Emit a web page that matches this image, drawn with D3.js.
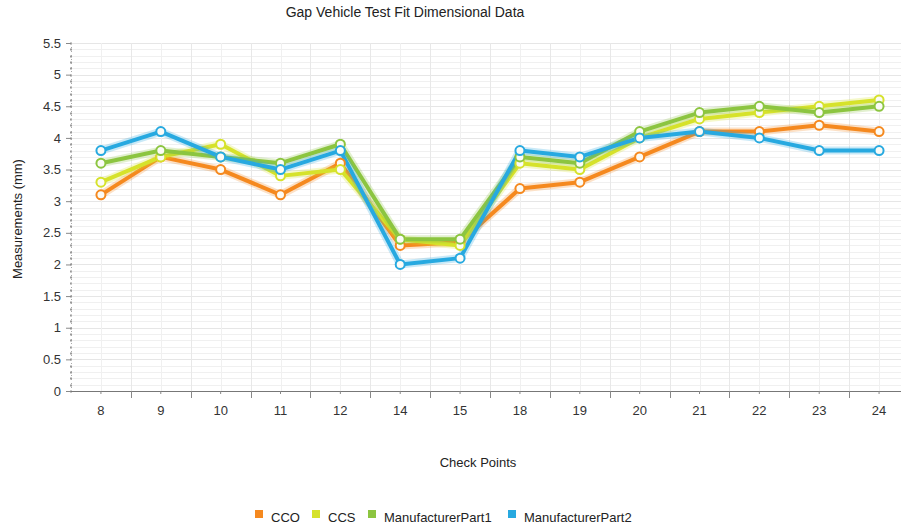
<!DOCTYPE html>
<html>
<head>
<meta charset="utf-8">
<script src="https://cdn.jsdelivr.net/npm/d3@7"></script>
<style>
  body { margin: 0; background: #fff; }
  svg { font-family: "Liberation Sans", Arial, sans-serif; }
</style>
</head>
<body>
<div id="chart"></div>
<script>
// check points on the x axis
const checkPoints = ["8", "9", "10", "11", "12", "14", "15", "18", "19", "20", "21", "22", "23", "24"];

// measurements per series (mm)
const cco = [3.1, 3.7, 3.5, 3.1, 3.6, 2.3, 2.35, 3.2, 3.3, 3.7, 4.1, 4.1, 4.2, 4.1];
const ccs = [3.3, 3.7, 3.9, 3.4, 3.5, 2.4, 2.3, 3.6, 3.5, 4.0, 4.3, 4.4, 4.5, 4.6];
const part1 = [3.6, 3.8, 3.7, 3.6, 3.9, 2.4, 2.4, 3.7, 3.6, 4.1, 4.4, 4.5, 4.4, 4.5];
const part2 = [3.8, 4.1, 3.7, 3.5, 3.8, 2.0, 2.1, 3.8, 3.7, 4.0, 4.1, 4.0, 3.8, 3.8];

const seriesNames = ["CCO", "CCS", "ManufacturerPart1", "ManufacturerPart2"];
const seriesColors = ["#f5891f", "#d6e22b", "#8cc540", "#27a9e0"];
const yTicks = [0, 0.5, 1, 1.5, 2, 2.5, 3, 3.5, 4, 4.5, 5, 5.5];

const series = [cco, ccs, part1, part2].map((vals, i) => ({
    name: seriesNames[i],
    color: seriesColors[i],
    values: vals.map((v, j) => ({ cat: checkPoints[j], v: v }))
}));

const width = 901, height = 531;
const plotLeft = 71, plotRight = 909, plotTop = 43, plotBottom = 391;

const svg = d3.select("#chart").append("svg")
    .attr("width", width)
    .attr("height", height);

const x = d3.scaleBand().domain(checkPoints).range([plotLeft, plotRight]);
const y = d3.scaleLinear().domain([0, 5.5]).range([plotBottom, plotTop]);
const cx = d => x(d) + x.bandwidth() / 2;

// minor grid every 0.1
const minor = d3.range(0, 56).map(d => d / 10);
svg.append("g")
    .selectAll("line")
    .data(minor)
    .enter().append("line")
    .attr("x1", plotLeft).attr("x2", width)
    .attr("y1", d => Math.round(y(d)) + 0.5)
    .attr("y2", d => Math.round(y(d)) + 0.5)
    .attr("stroke", "#f0f0f0");

// major grid
svg.append("g")
    .selectAll("line")
    .data(yTicks)
    .enter().append("line")
    .attr("x1", plotLeft).attr("x2", width)
    .attr("y1", d => Math.round(y(d)) + 0.5)
    .attr("y2", d => Math.round(y(d)) + 0.5)
    .attr("stroke", "#e6e6e6");

// vertical grid at band edges and centres
svg.append("g")
    .selectAll("line")
    .data(checkPoints)
    .enter().append("line")
    .attr("x1", d => Math.round(cx(d)) + 0.5)
    .attr("x2", d => Math.round(cx(d)) + 0.5)
    .attr("y1", plotTop).attr("y2", plotBottom)
    .attr("stroke", "#f0f0f0");
svg.append("g")
    .selectAll("line")
    .data(checkPoints.slice(1))
    .enter().append("line")
    .attr("x1", d => Math.round(x(d)) + 0.5)
    .attr("x2", d => Math.round(x(d)) + 0.5)
    .attr("y1", plotTop).attr("y2", plotBottom)
    .attr("stroke", "#e8e8e8");

// y axis: dotted line with minor dots
svg.append("g")
    .selectAll("rect")
    .data(minor)
    .enter().append("rect")
    .attr("x", plotLeft - 1).attr("y", d => Math.round(y(d)) - 0.5)
    .attr("width", 2).attr("height", 2)
    .attr("fill", "#999");
svg.append("line")
    .attr("x1", plotLeft + 0.5).attr("x2", plotLeft + 0.5)
    .attr("y1", plotTop).attr("y2", plotBottom)
    .attr("stroke", "#aaa")
    .attr("stroke-dasharray", "1,3");

const yAxis = svg.append("g")
    .attr("transform", "translate(" + plotLeft + ",0)")
    .call(d3.axisLeft(y).tickValues(yTicks).tickSize(5).tickPadding(5).tickFormat(d => d));
yAxis.select(".domain").remove();
yAxis.selectAll(".tick line").attr("stroke", "#888");
yAxis.selectAll("text").attr("fill", "#333").style("font-size", "13px");

// x axis
const xAxis = svg.append("g")
    .attr("transform", "translate(0," + plotBottom + ")")
    .call(d3.axisBottom(x).tickSize(3).tickPadding(12));
xAxis.select(".domain").attr("stroke", "#777").attr("d", "M" + plotLeft + ",0.5H" + width);
xAxis.selectAll(".tick line").attr("stroke", "#888");
xAxis.selectAll("text").attr("fill", "#333").style("font-size", "13px");
svg.append("g")
    .selectAll("line")
    .data(checkPoints.slice(1))
    .enter().append("line")
    .attr("x1", d => Math.round(x(d)) + 0.5)
    .attr("x2", d => Math.round(x(d)) + 0.5)
    .attr("y1", plotBottom).attr("y2", plotBottom + 7)
    .attr("stroke", "#888");

// lines
const line = d3.line()
    .x(d => cx(d.cat))
    .y(d => y(d.v));

const lines = svg.append("g");
series.forEach(s => {
    lines.append("path")
        .datum(s.values)
        .attr("d", line)
        .attr("fill", "none")
        .attr("stroke", s.color)
        .attr("stroke-opacity", 0.25)
        .attr("stroke-width", 8)
        .attr("stroke-linejoin", "round");
    lines.append("path")
        .datum(s.values)
        .attr("d", line)
        .attr("fill", "none")
        .attr("stroke", s.color)
        .attr("stroke-width", 4)
        .attr("stroke-linejoin", "round");
});

// markers
series.forEach(s => {
    svg.append("g")
        .selectAll("circle")
        .data(s.values)
        .enter().append("circle")
        .attr("cx", d => cx(d.cat))
        .attr("cy", d => y(d.v))
        .attr("r", 4.5)
        .attr("fill", "#fbfbf6")
        .attr("stroke", s.color)
        .attr("stroke-width", 2);
});

// title and labels
svg.append("text")
    .attr("x", 405).attr("y", 17)
    .attr("text-anchor", "middle")
    .style("font-size", "14px")
    .attr("fill", "#222")
    .text("Gap Vehicle Test Fit Dimensional Data");

svg.append("text")
    .attr("x", 478).attr("y", 467)
    .attr("text-anchor", "middle")
    .style("font-size", "13px")
    .attr("fill", "#222")
    .text("Check Points");

svg.append("text")
    .attr("transform", "translate(22,219) rotate(-90)")
    .attr("text-anchor", "middle")
    .style("font-size", "13px")
    .attr("fill", "#222")
    .text("Measurements (mm)");

// legend
const legendX = [255, 312, 368, 508];
const legend = svg.append("g");
series.forEach((s, i) => {
    legend.append("rect")
        .attr("x", legendX[i]).attr("y", 510)
        .attr("width", 8).attr("height", 8)
        .attr("fill", s.color);
    legend.append("text")
        .attr("x", legendX[i] + 16).attr("y", 522)
        .style("font-size", "13px")
        .attr("fill", "#222")
        .text(s.name);
});
</script>
</body>
</html>
